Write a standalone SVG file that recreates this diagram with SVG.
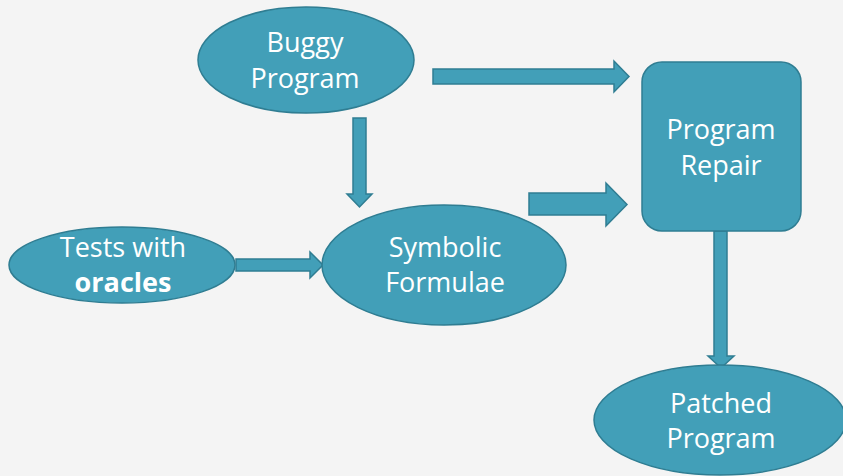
<svg xmlns="http://www.w3.org/2000/svg" width="843" height="476" viewBox="0 0 843 476">
  <style>
    .shape { fill: #429fb8; stroke: #2f7d92; stroke-width: 1.5; }
    .label { fill: #ffffff; font-family: "Open Sans", "Noto Sans", sans-serif; font-size: 27px; text-anchor: middle; }
    .bold { font-weight: bold; }
  </style>
  <rect x="0" y="0" width="843" height="476" fill="#f4f4f4"/>

  <g id="connectors">
    <!-- Buggy Program -> Program Repair -->
    <path class="shape" d="M433,69 H614 V61 L629,76.5 L614,92 V84 H433 Z"/>
    <!-- Buggy Program -> Symbolic Formulae -->
    <path class="shape" d="M353,118 H366 V194 H372 L359.5,207 L347,194 H353 Z"/>
    <!-- Symbolic Formulae -> Program Repair -->
    <path class="shape" d="M529,193 H606 V183 L627,204.5 L606,226 V215 H529 Z"/>
    <!-- Tests with oracles -> Symbolic Formulae -->
    <path class="shape" d="M236,259 H310 V252 L323,265 L310,278 V271 H236 Z"/>
    <!-- Program Repair -> Patched Program -->
    <path class="shape" d="M714,231 H727 V356 H734 L721,368 L708,356 H714 Z"/>
  </g>

  <g id="buggy-program">
    <ellipse class="shape" cx="306" cy="60" rx="108" ry="53"/>
    <text class="label" x="305" y="52">Buggy</text>
    <text class="label" x="305" y="88">Program</text>
  </g>

  <g id="program-repair">
    <rect class="shape" x="642" y="62" width="159" height="169" rx="20" ry="20"/>
    <text class="label" x="721" y="139">Program</text>
    <text class="label" x="721" y="175">Repair</text>
  </g>

  <g id="tests-with-oracles">
    <ellipse class="shape" cx="122" cy="265" rx="113" ry="38"/>
    <text class="label" x="123" y="257">Tests with</text>
    <text class="label bold" x="123" y="292">oracles</text>
  </g>

  <g id="symbolic-formulae">
    <ellipse class="shape" cx="444" cy="265" rx="122" ry="60"/>
    <text class="label" x="445" y="257">Symbolic</text>
    <text class="label" x="445" y="292">Formulae</text>
  </g>

  <g id="patched-program">
    <ellipse class="shape" cx="720" cy="420" rx="126" ry="55"/>
    <text class="label" x="721" y="413">Patched</text>
    <text class="label" x="721" y="448">Program</text>
  </g>
</svg>
